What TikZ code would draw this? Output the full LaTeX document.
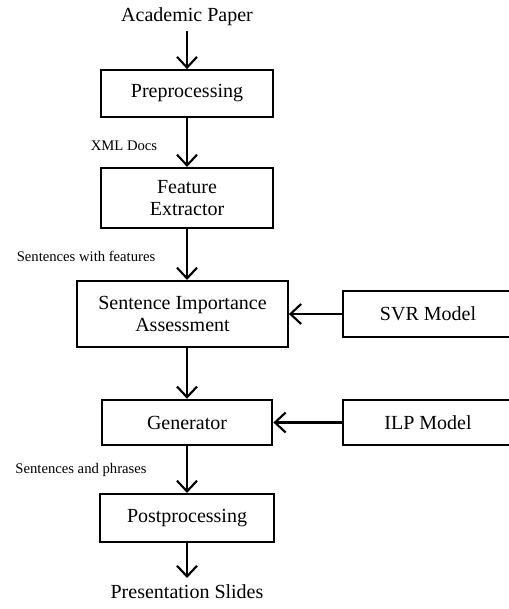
\documentclass[tikz,border=0pt]{standalone}
\usepackage{fontspec}
\setmainfont{Liberation Serif}
\usepackage{tikz}
\usetikzlibrary{arrows.meta}

\begin{document}
\begin{tikzpicture}[x=0.75pt,y=-0.75pt,
        box/.style={draw,line width=1.6pt,align=center,inner sep=0pt,font=\fontsize{15}{17}\selectfont},
        flow/.style={line width=1.6pt,-{Straight Barb[length=8pt,width=15pt,line width=1.6pt]}},
        lbl/.style={font=\fontsize{11}{12}\selectfont}]
        \useasboundingbox (0,0) rectangle (509,609);
        \clip (0,0) rectangle (509,609);
        % main column
        \node[font=\fontsize{15}{17}\selectfont] (paper) at (187,17) {Academic Paper};
        \node[box,minimum width=129pt,minimum height=35pt] (pre) at (187,93.5) {Preprocessing};
        \node[box,minimum width=129pt,minimum height=45pt] (feat) at (187,198) {Feature\\Extractor};
        \node[box,minimum width=158pt,minimum height=49.5pt] (sia) at (182.5,314) {Sentence Importance\\Assessment};
        \node[box,minimum width=128pt,minimum height=34pt] (gen) at (187,422.5) {Generator};
        \node[box,minimum width=130pt,minimum height=36pt] (post) at (187,518) {Postprocessing};
        \node[font=\fontsize{15}{17}\selectfont] (slides) at (187,592) {Presentation Slides};
        % models on the right
        \node[box,minimum width=127.5pt,minimum height=34.5pt] (svr) at (428,314) {SVR Model};
        \node[box,minimum width=127.5pt,minimum height=34pt] (ilp) at (428,422.5) {ILP Model};
        % edge labels
        \node[lbl] (xml) at (124,146) {XML Docs};
        \node[lbl] (swf) at (86,256) {Sentences with features};
        \node[lbl] (sap) at (81,470) {Sentences and phrases};
        % arrows
        \draw[flow] (paper) -- (pre);
        \draw[flow] (pre) -- (feat);
        \draw[flow] (feat.south) -- (feat.south |- sia.north);
        \draw[flow] (feat.south |- sia.south) -- (gen.north);
        \draw[flow] (gen) -- (post);
        \coordinate (end) at (187,578);
        \draw[flow] (post) -- (end);
        \draw[flow] (svr) -- (sia);
        \draw[flow] (ilp) -- (gen);
    \end{tikzpicture}
\end{document}
